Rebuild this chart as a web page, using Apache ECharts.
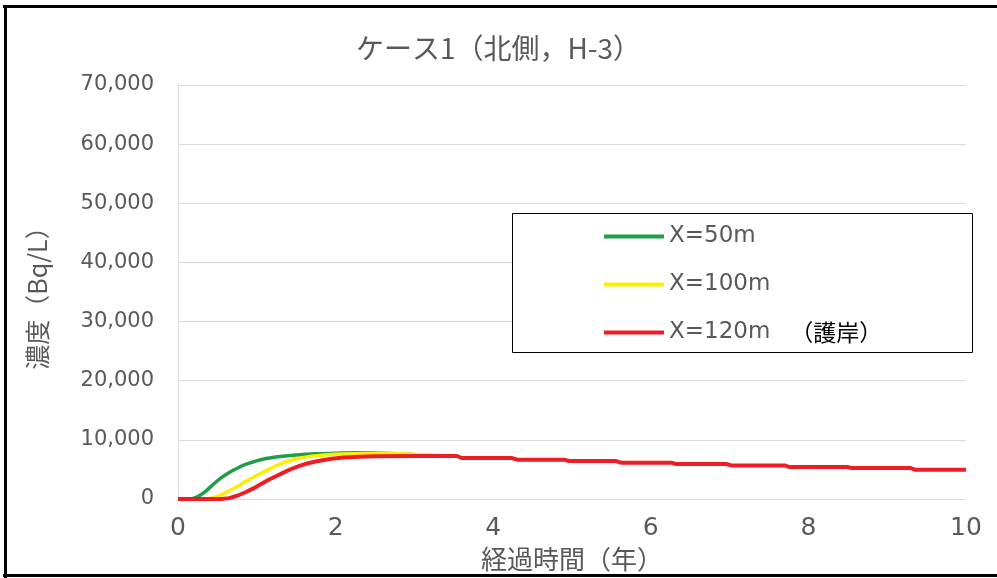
<!DOCTYPE html>
<html>
<head>
<meta charset="utf-8">
<script src="https://cdn.jsdelivr.net/npm/echarts@6/dist/echarts.min.js"></script>
<style>
html,body{margin:0;padding:0;background:#fff;}
#c{width:997px;height:578px;}
</style>
</head>
<body>
<div id="c"></div>
<script>
// ---- data (years, Bq/L) ----
var seriesNames = ['X=50m', 'X=100m', 'X=120m'];
var xTicks = [0, 2, 4, 6, 8, 10];
var yTicks = [0, 10000, 20000, 30000, 40000, 50000, 60000, 70000];

var t50 = [0, 0.15, 0.25, 0.35, 0.45, 0.55, 0.65, 0.75, 0.85, 0.95, 1.1, 1.3, 1.5, 1.75, 2.0, 2.3, 2.7, 3.0, 3.2, 3.5];
var c50 = [0, 0, 400, 1300, 2500, 3600, 4500, 5200, 5800, 6250, 6800, 7200, 7450, 7650, 7750, 7800, 7700, 7500, 7350, 7270];

var t100 = [0, 0.35, 0.45, 0.55, 0.65, 0.75, 0.85, 0.95, 1.05, 1.15, 1.25, 1.35, 1.45, 1.55, 1.7, 1.9, 2.1, 2.4, 2.7, 3.0, 3.3, 3.5];
var c100 = [0, 0, 200, 700, 1400, 2100, 2900, 3650, 4350, 5000, 5650, 6200, 6600, 6900, 7250, 7500, 7620, 7680, 7680, 7550, 7300, 7270];

var t120 = [0, 0.55, 0.65, 0.75, 0.85, 0.95, 1.05, 1.15, 1.25, 1.35, 1.45, 1.55, 1.65, 1.75, 1.85, 1.95, 2.1, 2.3, 2.5, 3.0, 3.54, 3.6, 4.24, 4.3, 4.9, 4.96, 5.56, 5.62, 6.26, 6.32, 6.96, 7.02, 7.7, 7.76, 8.49, 8.55, 9.3, 9.36, 10];
var c120 = [0, 0, 150, 550, 1100, 1750, 2500, 3250, 3900, 4550, 5150, 5650, 6050, 6350, 6600, 6800, 7000, 7150, 7230, 7280, 7270, 6930, 6930, 6650, 6650, 6420, 6420, 6140, 6140, 5910, 5910, 5680, 5680, 5400, 5400, 5230, 5230, 4940, 4940];

function zip(t, v) { return t.map(function (x, i) { return [x, v[i]]; }); }
function commas(v) { return String(v).replace(/\B(?=(\d{3})+(?!\d))/g, ','); }

var chart = echarts.init(document.getElementById('c'), null, { renderer: 'canvas' });
var gray = '#595959';
var num = 'DejaVu Sans';
var jp = 'Noto Sans CJK JP';

chart.setOption({
  animation: false,
  backgroundColor: '#fff',
  title: {
    text: 'ケース1（北側，H-3）',
    left: 'center',
    top: 29,
    textStyle: { color: gray, fontSize: 28, fontWeight: 'normal', fontFamily: jp }
  },
  grid: { left: 178, right: 31, top: 85, bottom: 79 },
  xAxis: {
    type: 'value',
    min: xTicks[0], max: xTicks[xTicks.length - 1], interval: 2,
    name: '経過時間（年）',
    nameLocation: 'middle',
    nameGap: 36,
    nameTextStyle: { color: gray, fontSize: 26, fontFamily: jp },
    axisLine: { show: true, lineStyle: { color: '#d9d9d9', width: 1 } },
    axisTick: { show: false },
    splitLine: { show: false },
    axisLabel: { color: gray, fontSize: 25, fontFamily: num, margin: 17 }
  },
  yAxis: {
    type: 'value',
    min: yTicks[0], max: yTicks[yTicks.length - 1], interval: 10000,
    name: '濃度（Bq/L）',
    nameLocation: 'middle',
    nameGap: 128,
    nameTextStyle: { color: gray, fontSize: 25, fontFamily: jp },
    axisLine: { show: true, lineStyle: { color: '#d9d9d9', width: 1 } },
    axisTick: { show: false },
    splitLine: { show: true, lineStyle: { color: '#d9d9d9', width: 1 } },
    axisLabel: { color: gray, fontSize: 21, fontFamily: num, margin: 24, formatter: function (v) { return commas(v); } }
  },
  legend: {
    z: 20,
    orient: 'vertical',
    left: 604,
    top: 225,
    icon: 'rect',
    itemWidth: 60,
    itemHeight: 4,
    itemGap: 25,
    padding: 0,
    data: seriesNames,
    textStyle: {
      color: gray, fontSize: 23, fontFamily: num,
      rich: {
        a: { color: gray, fontSize: 23, fontFamily: num },
        b: { color: '#000', fontSize: 23, fontFamily: jp, padding: [0, 0, 0, 20] }
      }
    },
    formatter: function (name) {
      if (name === 'X=120m') return '{a|X=120m}{b|（護岸）}';
      return name;
    }
  },
  graphic: [
    { type: 'rect', z: 5, shape: { x: 512.5, y: 213.5, width: 460, height: 139 }, style: { fill: '#fff', stroke: '#000', lineWidth: 1 } },
    { type: 'line', z: 100, shape: { x1: 3, y1: 6.5, x2: 997, y2: 6.5 }, style: { stroke: '#000', lineWidth: 3 } },
    { type: 'line', z: 100, shape: { x1: 5.5, y1: 5, x2: 5.5, y2: 578 }, style: { stroke: '#000', lineWidth: 3 } },
    { type: 'line', z: 100, shape: { x1: 3, y1: 575.5, x2: 997, y2: 575.5 }, style: { stroke: '#000', lineWidth: 3 } }
  ],
  series: [
    { name: seriesNames[0], type: 'line', data: zip(t50, c50), symbol: 'none', smooth: 0.3, lineStyle: { color: '#1e9e48', width: 3.5 }, itemStyle: { color: '#1e9e48' } },
    { name: seriesNames[1], type: 'line', data: zip(t100, c100), symbol: 'none', smooth: 0.3, lineStyle: { color: '#ffee00', width: 3.5 }, itemStyle: { color: '#ffee00' } },
    { name: seriesNames[2], type: 'line', data: zip(t120, c120), symbol: 'none', smooth: false, lineStyle: { color: '#ee1c24', width: 4 }, itemStyle: { color: '#ee1c24' } }
  ]
});
</script>
</body>
</html>
